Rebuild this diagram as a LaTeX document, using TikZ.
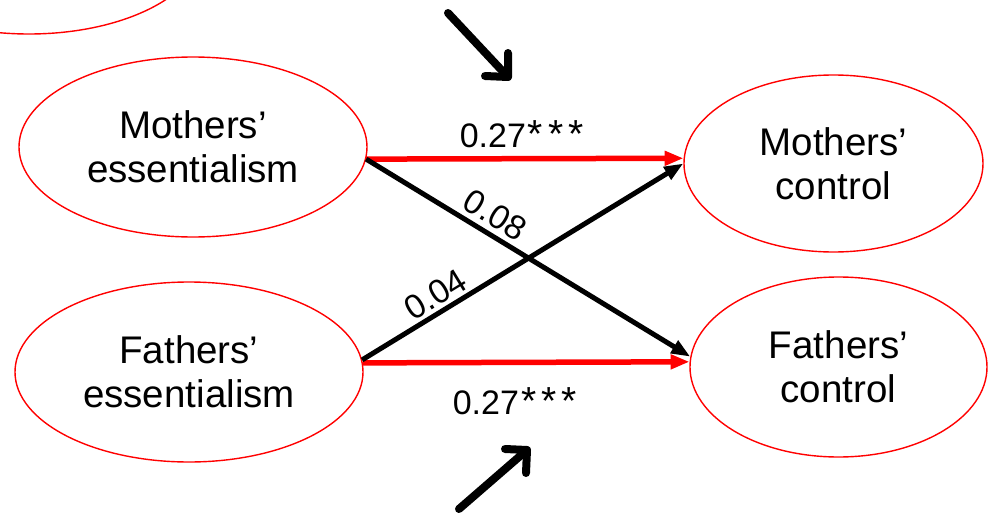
\documentclass[tikz,border=0pt]{standalone}
\usepackage{fontspec}
\setmainfont{Liberation Sans}
\usetikzlibrary{arrows.meta,shapes.geometric}
\definecolor{pred}{RGB}{255,0,0}
\newcommand{\sigstars}{\kern2pt\scalebox{1.15}{*}\kern5pt\scalebox{1.15}{*}\kern5pt\scalebox{1.15}{*}}
\tikzset{
  latent/.style={draw=pred, line width=1.4pt, ellipse, inner sep=0pt, align=center,
    font=\fontsize{38.5}{44}\selectfont},
  redpath/.style={draw=pred, line width=5.5pt, -{Triangle[length=19pt,width=14pt]}},
  blackpath/.style={draw=black, line width=5pt, -{Triangle[length=19pt,width=14pt]}},
  coef/.style={inner sep=0pt, font=\fontsize{34}{40}\selectfont, text=black},
  bigarrow/.style={draw=black, line width=8pt, line cap=round, line join=round}
}
\begin{document}
\begin{tikzpicture}[x=1pt,y=-1pt]
\useasboundingbox (0,0) rectangle (994,514);
\fill[white] (0,0) rectangle (994,514);
\begin{scope}
  \clip (0,0) rectangle (994,514);
  \draw[draw=pred, line width=1.4pt] (29,-56) ellipse [x radius=174, y radius=90];
\end{scope}
\node[latent, minimum width=348pt, minimum height=180pt] (me) at (193,147) {Mothers’\\essentialism};
\node[latent, minimum width=348pt, minimum height=180pt] (fe) at (189,372) {Fathers’\\essentialism};
\node[latent, minimum width=299pt, minimum height=177pt] (mc) at (833.5,163.5) {Mothers’\\control};
\node[latent, minimum width=297pt, minimum height=180pt] (fc) at (838.5,367) {Fathers’\\control};
\draw[redpath] (me.-4) -- node[coef, pos=0.49, above=8pt] {0.27\sigstars} (mc.178);
\draw[redpath] (fe.3) -- node[coef, pos=0.465, below=22pt] {0.27\sigstars} (fc.178);
\draw[blackpath] (me.-4) -- node[coef, sloped, pos=0.367, above=5pt] {0.08} (fc.176);
\draw[blackpath] (fe.4) -- node[coef, sloped, pos=0.257, above=3pt] {0.04} (mc.180);
\coordinate (tas) at (448,13);
\coordinate (tat) at (508,77);
\coordinate (tal) at (508,53);
\coordinate (tar) at (485,76);
\coordinate (bas) at (459,509);
\coordinate (bat) at (527,450);
\coordinate (bal) at (505,449);
\coordinate (bar) at (526,473);
\draw[bigarrow] (tas) -- (tat);
\draw[bigarrow] (tal) -- (tat) -- (tar);
\draw[bigarrow] (bas) -- (bat);
\draw[bigarrow] (bal) -- (bat) -- (bar);
\end{tikzpicture}
\end{document}
